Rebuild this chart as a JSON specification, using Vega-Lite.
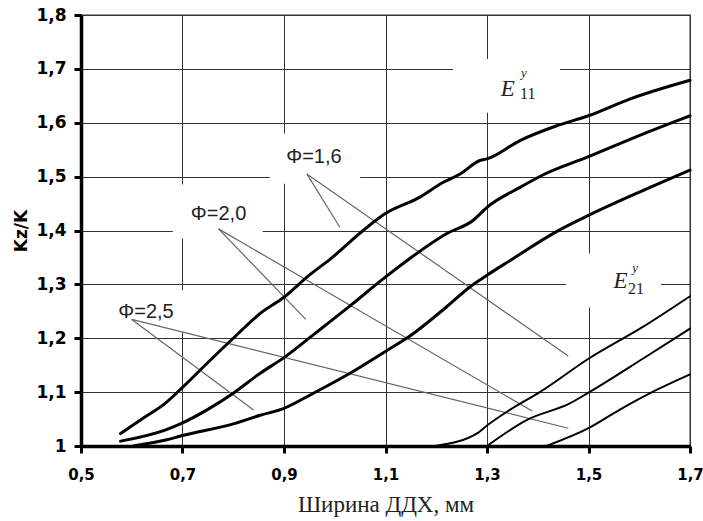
{
  "$schema": "https://vega.github.io/schema/vega-lite/v6.json",
  "width": 609,
  "height": 431,
  "autosize": {"type": "none"},
  "padding": {"left": 81, "top": 15, "right": 13, "bottom": 75},
  "background": "white",
  "config": {
    "view": {"stroke": "#999999", "strokeWidth": 2},
    "axis": {"labelFlush": false, "labelOverlap": false, "labelBound": false}
  },
  "datasets": {
    "curves": [
      {"curve": "A", "group": "E11", "x": 0.578, "y": 1.023},
      {"curve": "A", "group": "E11", "x": 0.62, "y": 1.05},
      {"curve": "A", "group": "E11", "x": 0.667, "y": 1.08},
      {"curve": "A", "group": "E11", "x": 0.698, "y": 1.107},
      {"curve": "A", "group": "E11", "x": 0.75, "y": 1.155},
      {"curve": "A", "group": "E11", "x": 0.8, "y": 1.2},
      {"curve": "A", "group": "E11", "x": 0.853, "y": 1.246},
      {"curve": "A", "group": "E11", "x": 0.9, "y": 1.276},
      {"curve": "A", "group": "E11", "x": 0.951, "y": 1.318},
      {"curve": "A", "group": "E11", "x": 0.99, "y": 1.346},
      {"curve": "A", "group": "E11", "x": 1.056, "y": 1.4},
      {"curve": "A", "group": "E11", "x": 1.099, "y": 1.431},
      {"curve": "A", "group": "E11", "x": 1.168, "y": 1.462},
      {"curve": "A", "group": "E11", "x": 1.213, "y": 1.489},
      {"curve": "A", "group": "E11", "x": 1.247, "y": 1.505},
      {"curve": "A", "group": "E11", "x": 1.286, "y": 1.53},
      {"curve": "A", "group": "E11", "x": 1.3, "y": 1.533},
      {"curve": "A", "group": "E11", "x": 1.365, "y": 1.567},
      {"curve": "A", "group": "E11", "x": 1.436, "y": 1.594},
      {"curve": "A", "group": "E11", "x": 1.5, "y": 1.613},
      {"curve": "A", "group": "E11", "x": 1.581, "y": 1.644},
      {"curve": "A", "group": "E11", "x": 1.7, "y": 1.679},
      {"curve": "B", "group": "E11", "x": 0.578, "y": 1.009},
      {"curve": "B", "group": "E11", "x": 0.667, "y": 1.03},
      {"curve": "B", "group": "E11", "x": 0.698, "y": 1.042},
      {"curve": "B", "group": "E11", "x": 0.75, "y": 1.068},
      {"curve": "B", "group": "E11", "x": 0.8, "y": 1.098},
      {"curve": "B", "group": "E11", "x": 0.853, "y": 1.135},
      {"curve": "B", "group": "E11", "x": 0.9, "y": 1.164},
      {"curve": "B", "group": "E11", "x": 0.96, "y": 1.208},
      {"curve": "B", "group": "E11", "x": 1.03, "y": 1.26},
      {"curve": "B", "group": "E11", "x": 1.099, "y": 1.313},
      {"curve": "B", "group": "E11", "x": 1.142, "y": 1.344},
      {"curve": "B", "group": "E11", "x": 1.22, "y": 1.394},
      {"curve": "B", "group": "E11", "x": 1.273, "y": 1.419},
      {"curve": "B", "group": "E11", "x": 1.3, "y": 1.443},
      {"curve": "B", "group": "E11", "x": 1.365, "y": 1.48},
      {"curve": "B", "group": "E11", "x": 1.41, "y": 1.503},
      {"curve": "B", "group": "E11", "x": 1.5, "y": 1.537},
      {"curve": "B", "group": "E11", "x": 1.607, "y": 1.579},
      {"curve": "B", "group": "E11", "x": 1.7, "y": 1.613},
      {"curve": "C", "group": "E11", "x": 0.603, "y": 1.0},
      {"curve": "C", "group": "E11", "x": 0.667, "y": 1.011},
      {"curve": "C", "group": "E11", "x": 0.698, "y": 1.019},
      {"curve": "C", "group": "E11", "x": 0.8, "y": 1.041},
      {"curve": "C", "group": "E11", "x": 0.853, "y": 1.057},
      {"curve": "C", "group": "E11", "x": 0.9, "y": 1.07},
      {"curve": "C", "group": "E11", "x": 0.958, "y": 1.098},
      {"curve": "C", "group": "E11", "x": 1.03, "y": 1.135},
      {"curve": "C", "group": "E11", "x": 1.099, "y": 1.175},
      {"curve": "C", "group": "E11", "x": 1.148, "y": 1.204},
      {"curve": "C", "group": "E11", "x": 1.22, "y": 1.258},
      {"curve": "C", "group": "E11", "x": 1.27, "y": 1.298},
      {"curve": "C", "group": "E11", "x": 1.3, "y": 1.317},
      {"curve": "C", "group": "E11", "x": 1.345, "y": 1.344},
      {"curve": "C", "group": "E11", "x": 1.437, "y": 1.398},
      {"curve": "C", "group": "E11", "x": 1.5, "y": 1.428},
      {"curve": "C", "group": "E11", "x": 1.607, "y": 1.474},
      {"curve": "C", "group": "E11", "x": 1.7, "y": 1.512},
      {"curve": "D", "group": "E21", "x": 1.198, "y": 1.0},
      {"curve": "D", "group": "E21", "x": 1.283, "y": 1.025},
      {"curve": "D", "group": "E21", "x": 1.3, "y": 1.038},
      {"curve": "D", "group": "E21", "x": 1.345, "y": 1.067},
      {"curve": "D", "group": "E21", "x": 1.404, "y": 1.1},
      {"curve": "D", "group": "E21", "x": 1.5, "y": 1.162},
      {"curve": "D", "group": "E21", "x": 1.607, "y": 1.221},
      {"curve": "D", "group": "E21", "x": 1.7, "y": 1.278},
      {"curve": "E", "group": "E21", "x": 1.3, "y": 1.0},
      {"curve": "E", "group": "E21", "x": 1.378, "y": 1.048},
      {"curve": "E", "group": "E21", "x": 1.463, "y": 1.079},
      {"curve": "E", "group": "E21", "x": 1.5, "y": 1.099},
      {"curve": "E", "group": "E21", "x": 1.607, "y": 1.162},
      {"curve": "E", "group": "E21", "x": 1.7, "y": 1.218},
      {"curve": "F", "group": "E21", "x": 1.417, "y": 1.0},
      {"curve": "F", "group": "E21", "x": 1.5, "y": 1.033},
      {"curve": "F", "group": "E21", "x": 1.561, "y": 1.067},
      {"curve": "F", "group": "E21", "x": 1.634, "y": 1.104},
      {"curve": "F", "group": "E21", "x": 1.7, "y": 1.133}
    ],
    "boxes": [
      {"x": 1.233, "x2": 1.444, "y": 1.7185, "y2": 1.6185},
      {"x": 0.872, "x2": 1.05, "y": 1.58, "y2": 1.487},
      {"x": 0.681, "x2": 0.858, "y": 1.4852, "y2": 1.385},
      {"x": 0.537, "x2": 0.719, "y": 1.289, "y2": 1.211},
      {"x": 1.456, "x2": 1.643, "y": 1.357, "y2": 1.257}
    ],
    "pointers": [
      {"x": 0.945, "y": 1.505, "x2": 1.01, "y2": 1.406},
      {"x": 0.945, "y": 1.505, "x2": 1.46, "y2": 1.167},
      {"x": 0.771, "y": 1.403, "x2": 0.943, "y2": 1.235},
      {"x": 0.771, "y": 1.403, "x2": 1.389, "y2": 1.065},
      {"x": 0.6, "y": 1.235, "x2": 0.84, "y2": 1.067},
      {"x": 0.6, "y": 1.235, "x2": 1.46, "y2": 1.033}
    ],
    "phi": [
      {"x": 0.959, "y": 1.536, "text": "Φ=1,6"},
      {"x": 0.771, "y": 1.4306, "text": "Φ=2,0"},
      {"x": 0.628, "y": 1.249, "text": "Φ=2,5"}
    ],
    "eLetters": [
      {"x": 1.341, "y": 1.65, "text": "E"},
      {"x": 1.563, "y": 1.294, "text": "E"}
    ],
    "eSub": [
      {"x": 1.365, "y": 1.644, "text": "11"},
      {"x": 1.578, "y": 1.283, "text": "21"}
    ],
    "eSup": [
      {"x": 1.367, "y": 1.685, "text": "y"},
      {"x": 1.586, "y": 1.323, "text": "y"}
    ]
  },
  "encoding": {
    "x": {
      "field": "x",
      "type": "quantitative",
      "scale": {"domain": [0.5, 1.7], "nice": false, "zero": false},
      "axis": {
        "values": [0.5, 0.7, 0.9, 1.1, 1.3, 1.5, 1.7],
        "labelExpr": "replace(format(datum.value, '.1f'), '.', ',')",
        "labelFont": "DejaVu Sans",
        "labelFontWeight": "bold",
        "labelFontSize": 15,
        "labelColor": "#000000",
        "labelPadding": 14,
        "tickSize": 7,
        "tickWidth": 3,
        "tickColor": "#000000",
        "domainColor": "#000000",
        "domainWidth": 3.5,
        "grid": true,
        "gridColor": "#333333",
        "gridWidth": 1,
        "title": "Ширина ДДХ, мм",
        "titleFont": "Liberation Serif",
        "titleFontSize": 23,
        "titleFontWeight": "normal",
        "titleColor": "#222222",
        "titlePadding": 11
      }
    },
    "y": {
      "field": "y",
      "type": "quantitative",
      "scale": {"domain": [1, 1.8], "nice": false, "zero": false},
      "axis": {
        "values": [1, 1.1, 1.2, 1.3, 1.4, 1.5, 1.6, 1.7, 1.8],
        "labelExpr": "datum.value == 1 ? '1' : replace(format(datum.value, '.1f'), '.', ',')",
        "labelFont": "DejaVu Sans",
        "labelFontWeight": "bold",
        "labelFontSize": 17,
        "labelColor": "#000000",
        "labelPadding": 8,
        "tickSize": 7,
        "tickWidth": 3,
        "tickColor": "#000000",
        "domainColor": "#000000",
        "domainWidth": 3.5,
        "grid": true,
        "gridColor": "#333333",
        "gridWidth": 1,
        "title": "Kz/K",
        "titleFont": "DejaVu Sans",
        "titleFontSize": 17,
        "titleFontWeight": "bold",
        "titleColor": "#000000",
        "titlePadding": 5
      }
    }
  },
  "layer": [
    {
      "data": {"name": "boxes"},
      "mark": {"type": "rect", "fill": "white", "stroke": null},
      "encoding": {"x2": {"field": "x2"}, "y2": {"field": "y2"}}
    },
    {
      "data": {"name": "pointers"},
      "mark": {"type": "rule", "color": "#666666", "strokeWidth": 1.2},
      "encoding": {"x2": {"field": "x2"}, "y2": {"field": "y2"}}
    },
    {
      "data": {"name": "curves"},
      "mark": {"type": "line", "color": "#000000", "interpolate": "monotone", "strokeJoin": "round", "strokeCap": "round"},
      "encoding": {
        "detail": {"field": "curve"},
        "size": {"field": "group", "type": "nominal", "scale": {"domain": ["E11", "E21"], "range": [3, 2]}, "legend": null},
        "order": {"field": "x", "type": "quantitative"}
      }
    },
    {
      "data": {"name": "phi"},
      "mark": {"type": "text", "font": "Liberation Sans", "fontSize": 20, "align": "center", "baseline": "middle", "color": "#222222"},
      "encoding": {"text": {"field": "text"}}
    },
    {
      "data": {"name": "eLetters"},
      "mark": {"type": "text", "font": "Liberation Serif", "fontStyle": "italic", "fontSize": 23, "align": "center", "baseline": "alphabetic", "color": "#222222"},
      "encoding": {"text": {"field": "text"}}
    },
    {
      "data": {"name": "eSub"},
      "mark": {"type": "text", "font": "Liberation Serif", "fontSize": 16, "align": "left", "baseline": "alphabetic", "color": "#222222"},
      "encoding": {"text": {"field": "text"}}
    },
    {
      "data": {"name": "eSup"},
      "mark": {"type": "text", "font": "Liberation Serif", "fontStyle": "italic", "fontSize": 13, "align": "left", "baseline": "alphabetic", "color": "#222222"},
      "encoding": {"text": {"field": "text"}}
    }
  ]
}
